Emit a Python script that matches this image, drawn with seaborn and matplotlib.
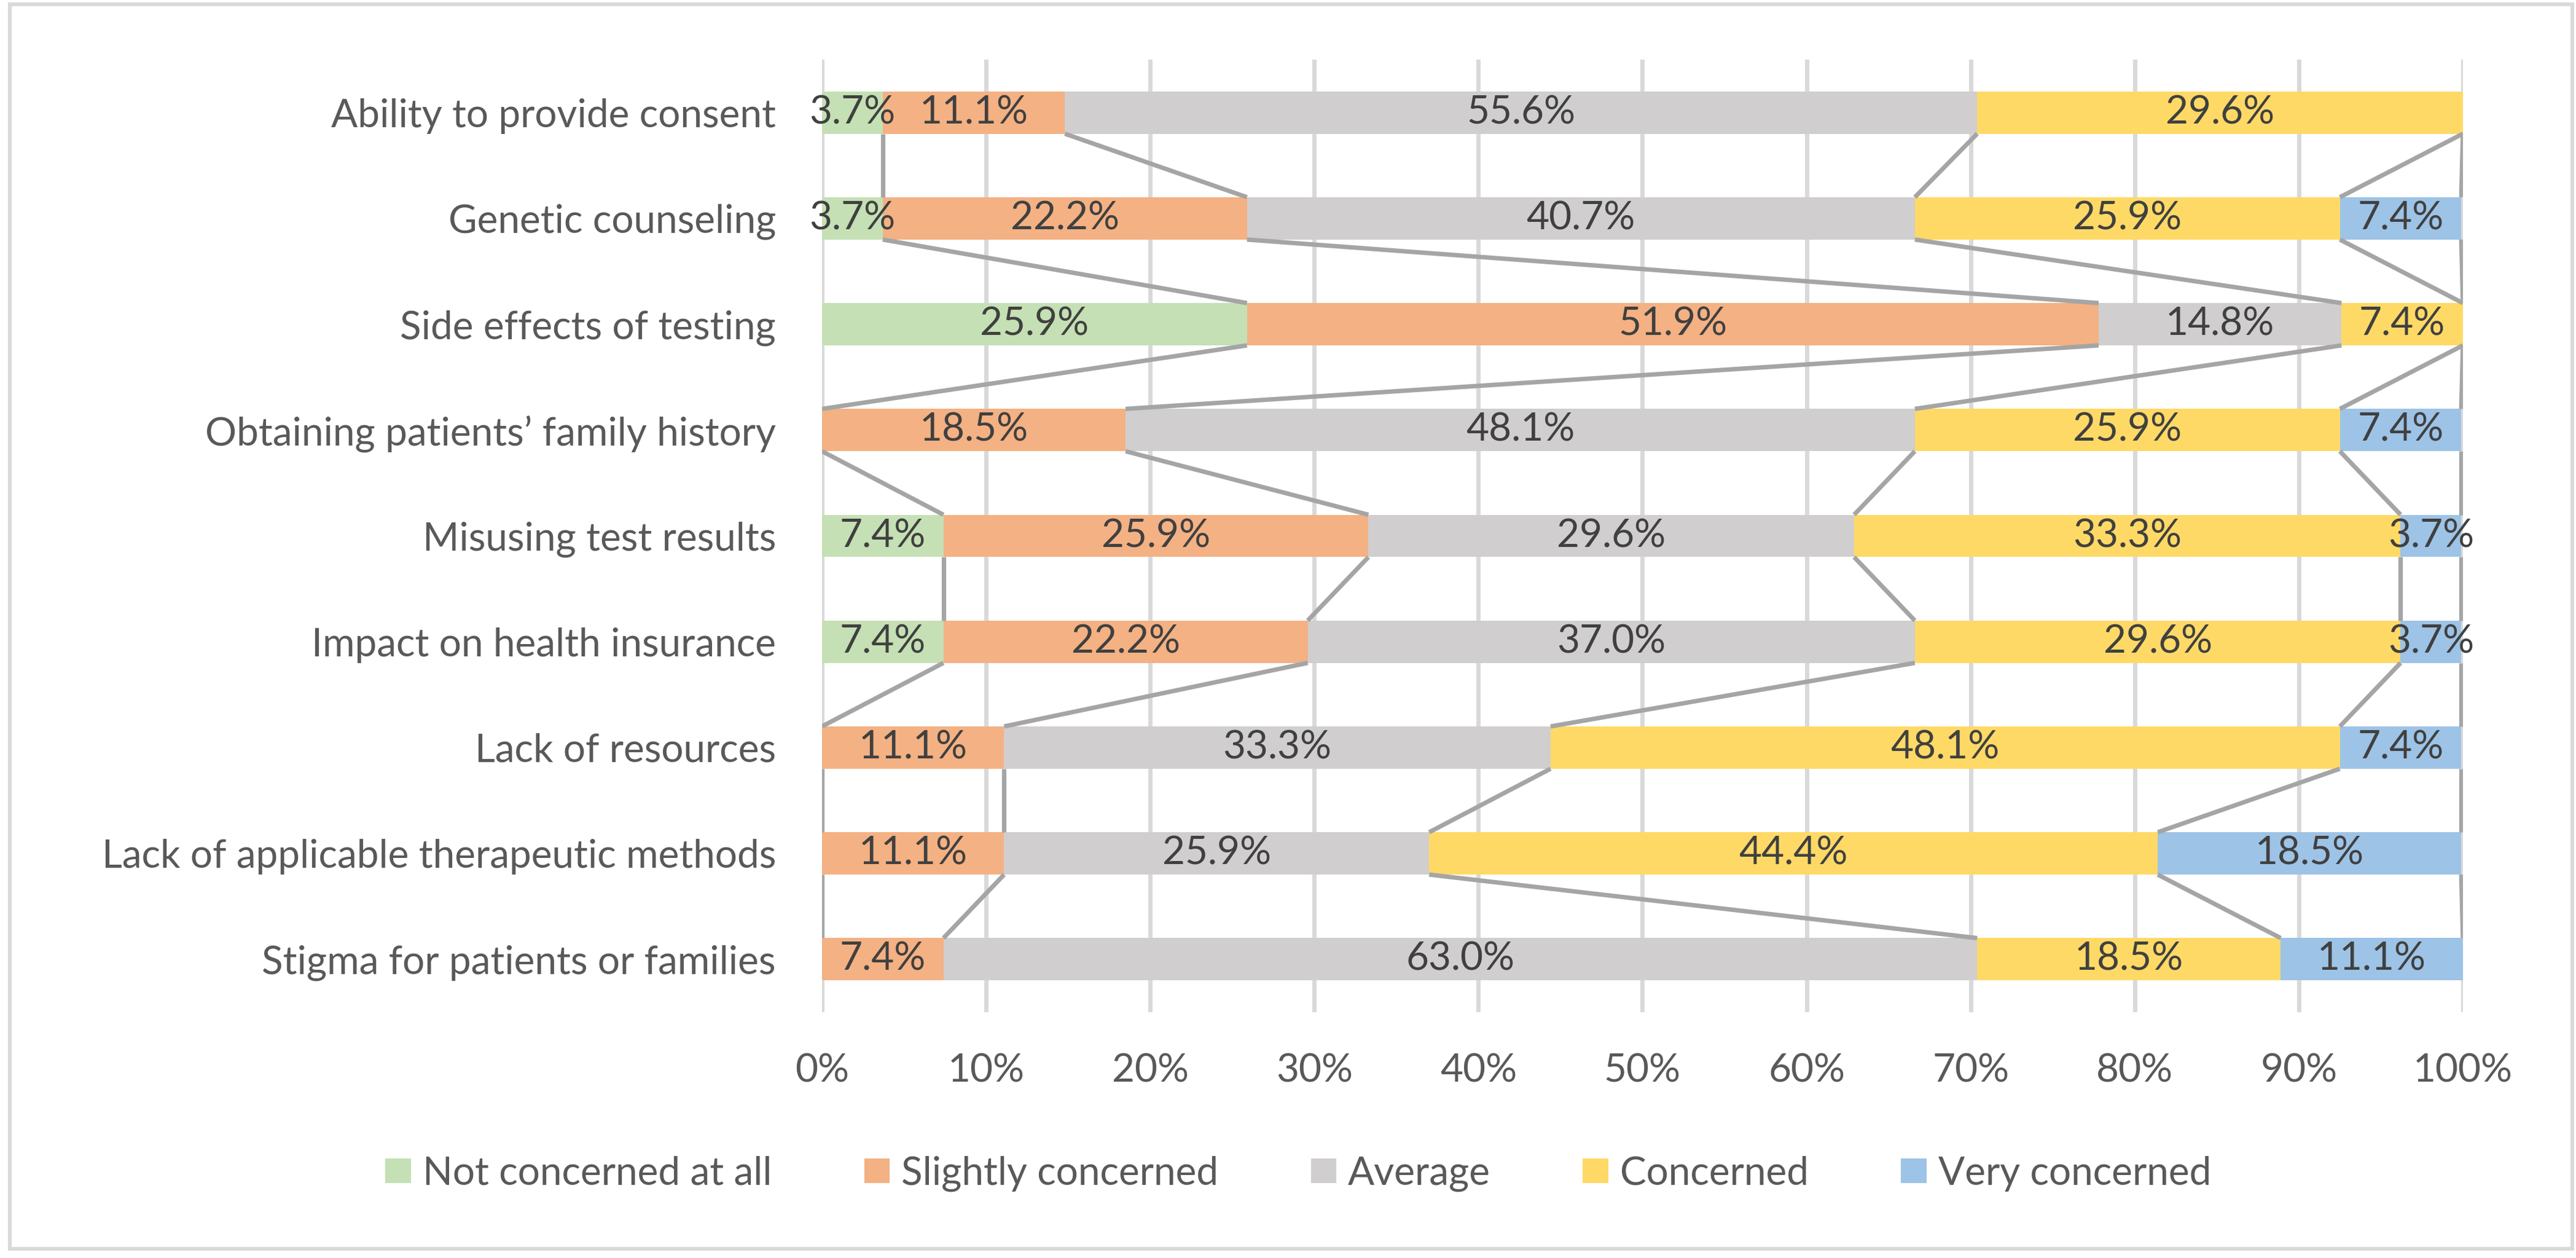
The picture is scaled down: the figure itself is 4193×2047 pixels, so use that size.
import numpy as np
import pandas as pd
import seaborn as sns
import matplotlib.pyplot as plt
from matplotlib.patches import Patch, Rectangle

# Survey answers, percent of respondents
categories = [
    "Ability to provide consent",
    "Genetic counseling",
    "Side effects of testing",
    "Obtaining patients\u2019 family history",
    "Misusing test results",
    "Impact on health insurance",
    "Lack of resources",
    "Lack of applicable therapeutic methods",
    "Stigma for patients or families",
]
series_names = ["Not concerned at all", "Slightly concerned", "Average",
                "Concerned", "Very concerned"]
not_concerned = [3.7, 3.7, 25.9, 0.0, 7.4, 7.4, 0.0, 0.0, 0.0]
slightly = [11.1, 22.2, 51.9, 18.5, 25.9, 22.2, 11.1, 11.1, 7.4]
average = [55.6, 40.7, 14.8, 48.1, 29.6, 37.0, 33.3, 25.9, 63.0]
concerned = [29.6, 25.9, 7.4, 25.9, 33.3, 29.6, 48.1, 44.4, 18.5]
very = [0.0, 7.4, 0.0, 7.4, 3.7, 3.7, 7.4, 18.5, 11.1]
colors = ["#C5E0B4", "#F4B183", "#D0CECE", "#FFD966", "#9DC3E6"]

df = pd.DataFrame({"category": categories, series_names[0]: not_concerned,
                   series_names[1]: slightly, series_names[2]: average,
                   series_names[3]: concerned, series_names[4]: very})
values = df[series_names].to_numpy()
cum = values.cumsum(axis=1)
for k, name in enumerate(series_names):
    df["cum_" + name] = cum[:, k]

sns.set_theme(style="white")
plt.rcParams["font.family"] = ["Lato", "DejaVu Sans"]

fig = plt.figure(figsize=(20.965, 10.235), dpi=200)
ax = fig.add_axes([0.3191, 0.1954, 0.6370, 0.7572])

# stacked bars: draw cumulative totals from the outside in
for k in range(len(series_names) - 1, -1, -1):
    sns.barplot(data=df, y="category", x="cum_" + series_names[k], order=categories,
                orient="h", color=colors[k], width=0.4, saturation=1,
                linewidth=0, ax=ax, zorder=2)

# series lines between neighbouring bars
half = 0.2
for k in range(len(series_names)):
    for i in range(len(categories) - 1):
        ax.plot([cum[i, k], cum[i + 1, k]], [i + half, i + 1 - half],
                color="#A5A5A5", lw=2.6, zorder=3, solid_capstyle="butt")

# data labels
for i in range(len(categories)):
    for k in range(len(series_names)):
        v = values[i, k]
        if v <= 0:
            continue
        ax.text(cum[i, k] - v / 2, i, f"{v:.1f}%", ha="center", va="center",
                fontsize=23, color="#404040", zorder=4)

ax.set_xlim(0, 100)
ax.set_ylim(len(categories) - 0.5, -0.5)
ax.set_xticks(np.arange(0, 101, 10))
ax.set_xticklabels([f"{t}%" for t in range(0, 101, 10)])
ax.xaxis.grid(True, color="#D9D9D9", lw=2.5, zorder=0)
ax.set_axisbelow(True)
for s in ax.spines.values():
    s.set_visible(False)
ax.set_xlabel("")
ax.set_ylabel("")
ax.tick_params(axis="both", length=0, labelsize=23, labelcolor="#595959")
ax.tick_params(axis="y", pad=27)
ax.tick_params(axis="x", pad=24)

handles = [Patch(facecolor=c, edgecolor="none", label=n) for n, c in zip(series_names, colors)]
fig.legend(handles=handles, loc="center", bbox_to_anchor=(0.504, 0.067), ncol=5,
           frameon=False, fontsize=23, labelcolor="#595959", handlelength=0.65,
           handleheight=0.6, handletextpad=0.3, columnspacing=2.35)

fig.patches.append(Rectangle((0.0038, 0.0073), 0.9948, 0.9893, transform=fig.transFigure,
                             fill=False, edgecolor="#D9D9D9", lw=2.2))

fig.savefig("out.png", dpi=200, facecolor="white")
